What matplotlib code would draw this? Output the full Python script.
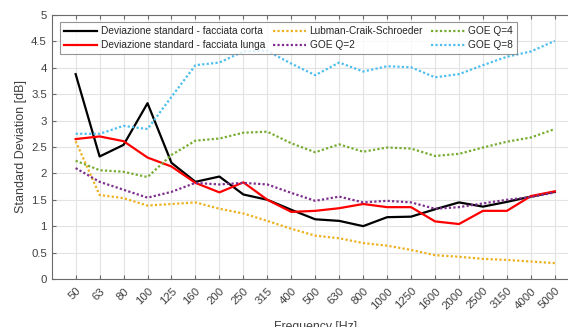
import matplotlib
matplotlib.use("Agg")
import matplotlib.pyplot as plt
import numpy as np

plt.rcParams['font.family'] = ['Liberation Sans', 'DejaVu Sans']

freqs = ["50", "63", "80", "100", "125", "160", "200", "250", "315", "400", "500",
         "630", "800", "1000", "1250", "1600", "2000", "2500", "3150", "4000", "5000"]

dev_corta = [3.88, 2.32, 2.54, 3.33, 2.20, 1.84, 1.94, 1.60, 1.50, 1.31, 1.13,
             1.10, 1.00, 1.17, 1.18, 1.32, 1.45, 1.37, 1.46, 1.56, 1.65]
dev_lunga = [2.65, 2.70, 2.61, 2.30, 2.13, 1.82, 1.64, 1.83, 1.50, 1.27, 1.29,
             1.34, 1.42, 1.36, 1.36, 1.09, 1.04, 1.29, 1.29, 1.57, 1.66]
lubman = [2.61, 1.59, 1.53, 1.39, 1.42, 1.45, 1.33, 1.24, 1.10, 0.95, 0.82,
          0.77, 0.68, 0.63, 0.55, 0.45, 0.42, 0.38, 0.36, 0.33, 0.30]
goe_q2 = [2.10, 1.84, 1.69, 1.54, 1.65, 1.82, 1.79, 1.82, 1.79, 1.63, 1.48,
          1.56, 1.45, 1.48, 1.45, 1.33, 1.36, 1.43, 1.50, 1.55, 1.64]
goe_q4 = [2.24, 2.06, 2.03, 1.93, 2.35, 2.62, 2.66, 2.77, 2.79, 2.57, 2.40,
          2.55, 2.41, 2.49, 2.47, 2.33, 2.37, 2.49, 2.60, 2.68, 2.84]
goe_q8 = [2.75, 2.75, 2.90, 2.84, 3.45, 4.05, 4.10, 4.31, 4.32, 4.08, 3.86,
          4.10, 3.93, 4.03, 4.01, 3.82, 3.88, 4.05, 4.21, 4.31, 4.51]

x = np.arange(len(freqs))

fig = plt.figure(figsize=(5.68, 3.27), dpi=100)
ax = fig.add_axes([0.091, 0.147, 0.928, 0.807])

dot = dict(lw=1.6, ls=(0, (1.0, 1.0)), dash_capstyle='butt')
ax.plot(x, dev_corta, color='black', lw=1.6, label='Deviazione standard - facciata corta')
ax.plot(x, dev_lunga, color='#ff0000', lw=1.6, label='Deviazione standard - facciata lunga')
ax.plot(x, lubman, color='#EDB120', label='Lubman-Craik-Schroeder', **dot)
ax.plot(x, goe_q2, color='#7E2F8E', label='GOE Q=2', **dot)
ax.plot(x, goe_q4, color='#77AC30', label='GOE Q=4', **dot)
ax.plot(x, goe_q8, color='#4DBEEE', label='GOE Q=8', **dot)

ax.set_xlim(-1, 21)
ax.set_ylim(0, 5)
ax.set_xticks(x)
ax.set_xticklabels(freqs, rotation=45, ha='right', rotation_mode='anchor')
yt = np.arange(0, 5.01, 0.5)
ax.set_yticks(yt)
ax.set_yticklabels([f"{v:g}" for v in yt])

ax.grid(True, color='#e3e3e3', lw=0.8)
ax.set_axisbelow(True)
for s in ax.spines.values():
    s.set_color('#6a6a6a')
    s.set_linewidth(0.8)
ax.tick_params(axis='both', direction='in', colors='#6a6a6a', labelcolor='#404040',
               labelsize=8.2, length=3, top=True, right=True)
ax.tick_params(axis='x', pad=5)

ax.set_xlabel('Frequency [Hz]', fontsize=8.8, color='#404040', labelpad=7)
ax.set_ylabel('Standard Deviation [dB]', fontsize=9, color='#404040', labelpad=3)

leg = ax.legend(loc='upper left', ncol=3, fontsize=7.3, frameon=True, fancybox=False,
                bbox_to_anchor=(0.0157, 0.9735), borderaxespad=0.0, handlelength=3.3,
                columnspacing=0.8, handletextpad=0.3, labelspacing=0.4, borderpad=0.4)
leg.get_frame().set_edgecolor('#7a7a7a')
leg.get_frame().set_linewidth(0.8)
for t in leg.get_texts():
    t.set_color('#262626')

fig.savefig('out.png', dpi=100)
